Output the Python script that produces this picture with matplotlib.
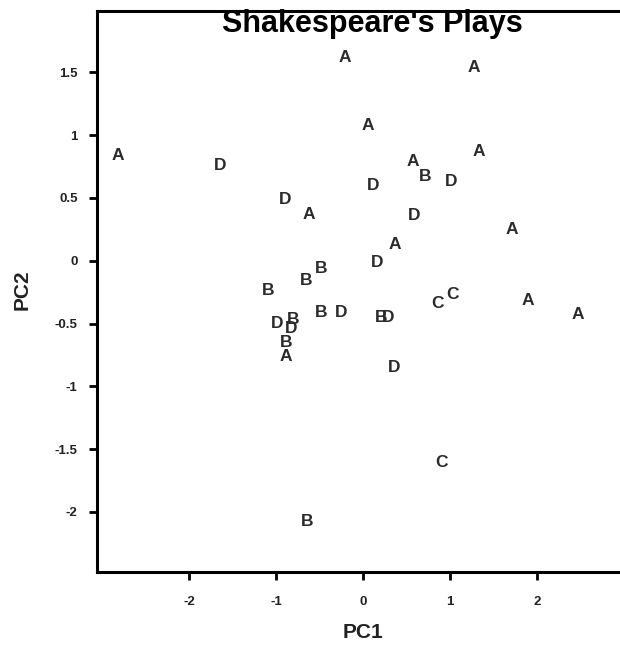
import matplotlib
matplotlib.use("Agg")
import matplotlib.pyplot as plt

# Data: group labels and principal component scores
groups = ["A", "A", "A", "A", "A", "A", "B", "D", "D", "D",
          "D", "A", "D", "A", "A", "D", "B", "B", "B", "B",
          "D", "A", "A", "C", "C", "B", "D", "D", "B", "D",
          "B", "A", "D", "C", "B"]
pc1 = [-2.82, -0.21, 1.27, 0.05, 1.33, 0.57, 0.71, 1.01, 0.11, -1.65,
       -0.90, -0.63, 0.58, 1.71, 0.36, 0.16, -0.49, -0.66, -1.09, -0.48,
       -0.26, 1.89, 2.46, 0.85, 1.02, 0.21, 0.29, -0.99, -0.81, -0.83,
       -0.89, -0.89, 0.35, 0.90, -0.65]
pc2 = [0.84, 1.62, 1.54, 1.08, 0.87, 0.79, 0.67, 0.63, 0.60, 0.76,
       0.49, 0.37, 0.36, 0.25, 0.13, -0.01, -0.06, -0.16, -0.24, -0.41,
       -0.41, -0.32, -0.43, -0.34, -0.27, -0.45, -0.45, -0.50, -0.47, -0.54,
       -0.65, -0.76, -0.85, -1.61, -2.08]

xticks = [-2, -1, 0, 1, 2]
xticklabels = ["-2", "-1", "0", "1", "2"]
yticks = [1.5, 1, 0.5, 0, -0.5, -1, -1.5, -2]
yticklabels = ["1.5", "1", "0.5", "0", "-0.5", "-1", "-1.5", "-2"]

plt.rcParams['font.family'] = ['Liberation Sans', 'DejaVu Sans']

W, H = 620, 649
fig = plt.figure(figsize=(W / 100, H / 100), dpi=100)
left, right, top, bottom = 97, 620, 11, 572
ax = fig.add_axes([left / W, (H - bottom) / H, (right - left) / W, (bottom - top) / H])

ax.set_xlim(-3.06, 2.95)
ax.set_ylim(-2.48, 1.99)

for g, x, y in zip(groups, pc1, pc2):
    ax.text(x, y, g, ha='center', va='center', fontsize=12.5, fontweight='bold',
            color='#2b2b2b')

ax.set_xticks(xticks)
ax.set_xticklabels(xticklabels)
ax.set_yticks(yticks)
ax.set_yticklabels(yticklabels)
ax.tick_params(axis='both', direction='out', length=6, width=2, color='black',
               labelsize=9.5)
ax.tick_params(axis='x', pad=11)
ax.tick_params(axis='y', pad=8)
for lbl in ax.get_xticklabels() + ax.get_yticklabels():
    lbl.set_fontweight('bold')
    lbl.set_color('#222222')

ax.spines['right'].set_visible(False)
for s in ['left', 'bottom', 'top']:
    ax.spines[s].set_linewidth(2.2)
    ax.spines[s].set_color('black')

fig.text(372 / W, 1 - 32 / H, "Shakespeare's Plays", ha='center', va='baseline',
         fontsize=22, fontweight='bold', color='black', zorder=5)
fig.text(363 / W, 1 - 633 / H, "PC1", ha='center', va='center', fontsize=15,
         fontweight='bold', color='#222222')
fig.text(22 / W, 1 - 290 / H, "PC2", ha='center', va='center', fontsize=15,
         fontweight='bold', color='#222222', rotation=90)

fig.savefig("out.png", dpi=100)
